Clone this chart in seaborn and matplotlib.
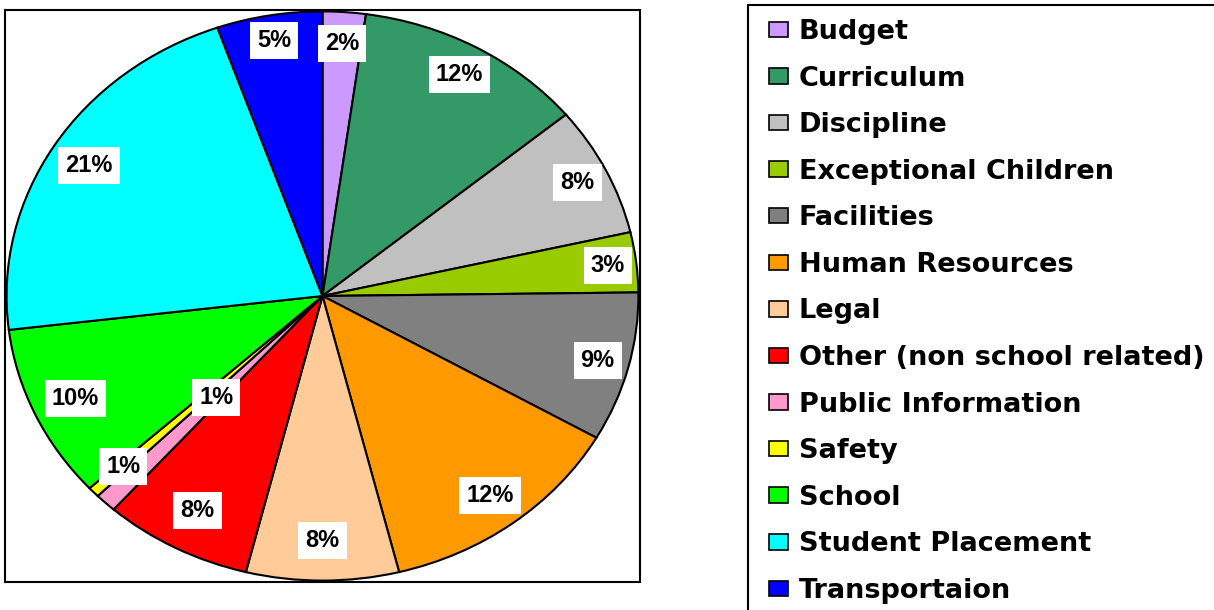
import numpy as np
import matplotlib
matplotlib.use("Agg")
import matplotlib.pyplot as plt
import seaborn as sns

# complaint categories, in the order Excel draws them (clockwise from 12 o'clock)
categories = ["Budget", "Curriculum", "Discipline", "Exceptional Children",
              "Facilities", "Human Resources", "Legal", "Other (non school related)",
              "Public Information", "Safety", "School", "Student Placement",
              "Transportaion"]
shares = [2.2, 11.8, 7.4, 3.4, 8.5, 12.8, 7.8, 7.6, 1.1, 0.6, 9.9, 21.5, 5.4]
pct_labels = ["2%", "12%", "8%", "3%", "9%", "12%", "8%", "8%", "1%", "1%",
              "10%", "21%", "5%"]
colors = ["#CC99FF", "#339966", "#C0C0C0", "#99CC00", "#808080", "#FF9900",
          "#FFCC99", "#FF0000", "#FF99CC", "#FFFF00", "#00FF00", "#00FFFF",
          "#0000FF"]

# radial position of each percentage label (fraction of radius)
label_r = [0.89, 0.89, 0.90, 0.91, 0.90, 0.88, 0.86, 0.85, 0.49, 0.87,
           0.86, 0.87, 0.91]

sns.set_style("white")
plt.rcParams["font.family"] = ["Liberation Sans", "DejaVu Sans"]
palette = sns.color_palette(colors)

fig = plt.figure(figsize=(12.14, 6.10), dpi=100)
ax = fig.add_axes([5 / 1214, 1 - 582 / 610, 635 / 1214, 572 / 610])

wedges, _ = ax.pie(shares, colors=palette, startangle=90, counterclock=False,
                   wedgeprops=dict(edgecolor="black", linewidth=1.5),
                   radius=1.0)
ax.set_aspect("auto")
ax.set_xlim(-1.005, 1.005)
ax.set_ylim(-1.005, 1.005)
ax.set_frame_on(True)
ax.set_xticks([])
ax.set_yticks([])
for s in ax.spines.values():
    s.set_visible(True)
    s.set_color("black")
    s.set_linewidth(1.5)

for w, lab, r in zip(wedges, pct_labels, label_r):
    ang = np.deg2rad((w.theta1 + w.theta2) / 2)
    ax.text(r * np.cos(ang), r * np.sin(ang), lab, ha="center", va="center",
            fontsize=17, fontweight="bold", color="black",
            bbox=dict(boxstyle="square,pad=0.3", facecolor="white", edgecolor="none"))

# legend frame (runs off the right and bottom edges like the original)
frame = plt.Rectangle((748 / 1214, -0.02), 0.5, 1 - 5 / 610 + 0.02,
                      transform=fig.transFigure, facecolor="white",
                      edgecolor="black", linewidth=1.5, zorder=0)
fig.patches.append(frame)

leg = fig.legend(wedges, categories, loc="upper left",
                 bbox_to_anchor=(769 / 1214, 1 - 19 / 610), frameon=False,
                 prop=dict(family="DejaVu Sans", size=19.5, weight="bold"),
                 labelcolor="black", handlelength=0.7,
                 handleheight=0.5, handletextpad=0.4, labelspacing=0.76,
                 borderpad=0, borderaxespad=0)
for h in leg.legend_handles:
    h.set_linewidth(1.2)
    h.set_edgecolor("black")

fig.savefig("out.png", dpi=100)
